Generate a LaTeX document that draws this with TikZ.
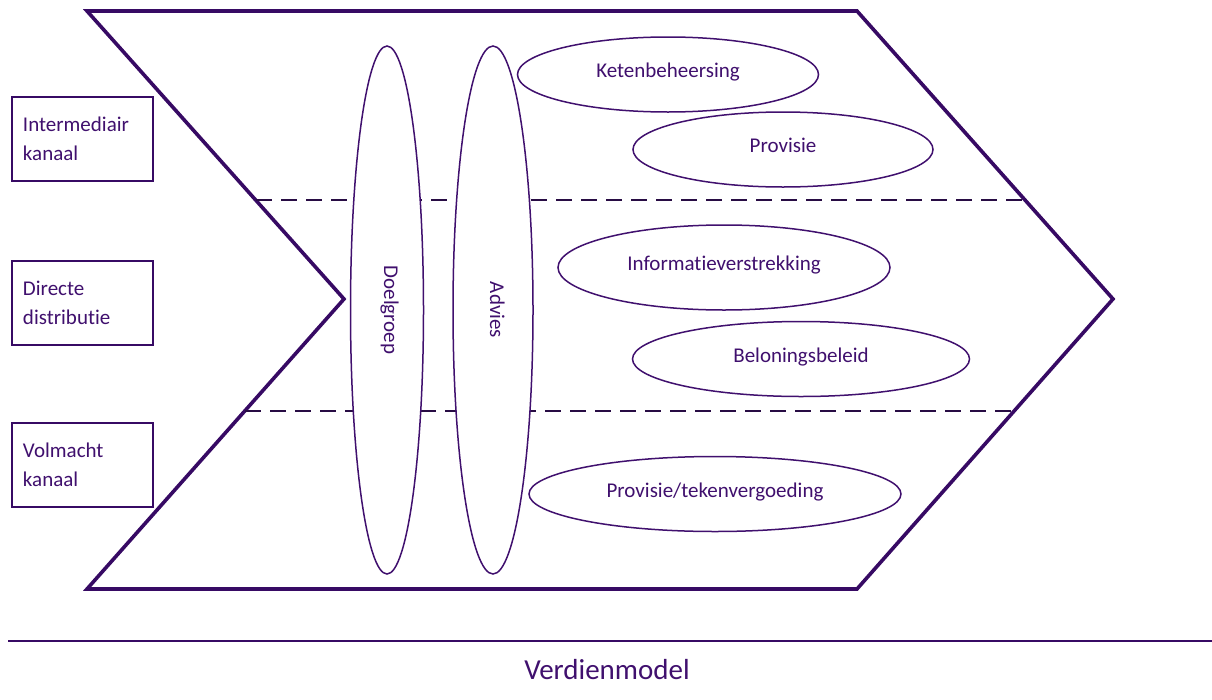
\documentclass[tikz,border=0pt]{standalone}
\usepackage{fontspec}
\setmainfont{Carlito}[Ligatures=NoCommon]
\usetikzlibrary{shapes.geometric}
\definecolor{chev}{RGB}{55,10,100}
\definecolor{txt}{RGB}{64,16,110}
\definecolor{dash}{RGB}{40,12,68}
\tikzset{
  chevline/.style={draw=chev, line width=3.6pt, line join=miter},
  sepline/.style={draw=dash, line width=2.8pt, dash pattern=on 16pt off 9pt},
  ell/.style={ellipse, draw=txt, line width=1.5pt, fill=white, inner sep=0pt,
    text height=14pt, text depth=8pt,
    text=txt, font=\fontsize{21}{29}\selectfont},
  chanbox/.style={rectangle, draw=chev, line width=2.2pt, fill=white, minimum width=141pt,
    minimum height=84pt, inner xsep=11pt, text width=119pt, align=left, text=txt,
    font=\fontsize{21}{29}\selectfont},
  title/.style={text=txt, font=\fontsize{29}{34}\selectfont, inner sep=0pt}
}
\begin{document}
\begin{tikzpicture}[x=1pt,y=-1pt]
\useasboundingbox (0,0) rectangle (1212,699);
% chevron corners
\coordinate (tl) at (87,11);
\coordinate (tr) at (857,11);
\coordinate (tip) at (1113,299);
\coordinate (br) at (857,589);
\coordinate (bl) at (87,589);
\coordinate (notch) at (344,299);
\draw[chevline] (tl) -- (tr) -- (tip) -- (br) -- (bl) -- (notch) -- cycle;
% dashed separators
\coordinate (s1l) at (256,200);
\coordinate (s1r) at (1025,200);
\coordinate (s2l) at (245,411);
\coordinate (s2r) at (1016,411);
\draw[sepline] (s1l) -- (s1r);
\draw[sepline] (s2l) -- (s2r);
% vertical ellipses
\node[ell, rotate=-90, minimum width=528pt, minimum height=73pt] (doel) at (387,310) {Doelgroep};
\node[ell, rotate=-90, minimum width=528pt, minimum height=80pt] (adv) at (493,310) {Advies};
% horizontal ellipses
\node[ell, minimum width=301pt, minimum height=75pt] (keten) at (668,74.5) {Ketenbeheersing};
\node[ell, minimum width=300pt, minimum height=75pt] (prov) at (783,149.5) {Provisie};
\node[ell, minimum width=332pt, minimum height=85pt] (info) at (724,267.5) {Informatieverstrekking};
\node[ell, minimum width=337pt, minimum height=75pt] (belon) at (801,359) {Beloningsbeleid};
\node[ell, minimum width=372pt, minimum height=75pt] (provt) at (715,494) {Provisie/tekenvergoeding};
% channel boxes
\node[chanbox] (inter) at (82.5,139) {Intermediair\\kanaal};
\node[chanbox] (direct) at (82.5,303) {Directe\\distributie};
\node[chanbox] (volm) at (82.5,465) {Volmacht\\kanaal};
% bottom rule and title
\coordinate (rl) at (8,640.5);
\coordinate (rr) at (1212,640.5);
\draw[draw=chev, line width=2pt] (rl) -- (rr);
\node[title, anchor=base] (vm) at (607,679) {Verdienmodel};
\end{tikzpicture}
\end{document}
